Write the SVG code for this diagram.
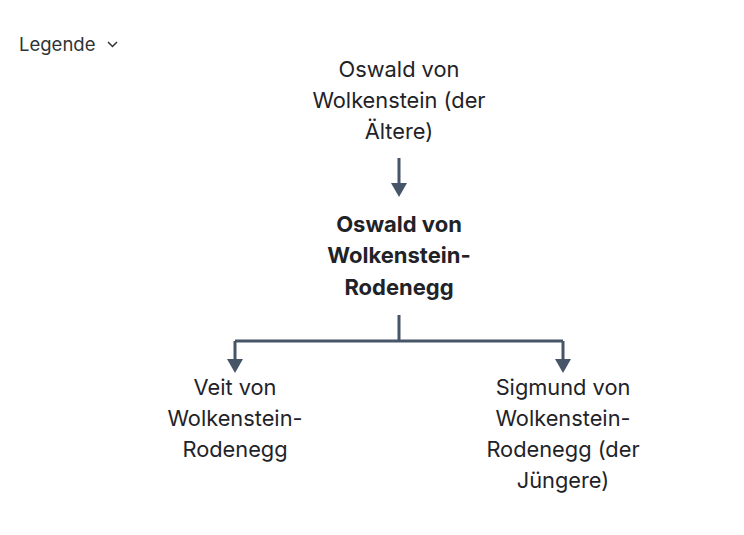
<svg xmlns="http://www.w3.org/2000/svg" width="744" height="535" viewBox="0 0 744 535">
<style>
text{font-family:Inter,"Noto Sans","Liberation Sans",sans-serif;fill:#1f2328}
.n{font-size:21.8px;text-anchor:middle}
.b{font-weight:700;font-size:22px}
.c{fill:none;stroke:#475569;stroke-width:3}
.lg{font-size:18.5px;fill:#2f3337}
</style>
<g id="legend">
<text class="lg" x="19" y="51">Legende</text>
<path d="M108,42 L112.5,46.5 L117,42" fill="none" stroke="#2f3337" stroke-width="1.5"/>
</g>
<g id="connectors">
<path class="c" d="M399,158 V184"/>
<path d="M391,183 H407 L399,197 Z" fill="#475569"/>
<path class="c" d="M399,315 V341 M235,341 H563 M235,341 V360 M563,341 V360"/>
<path d="M227,359 H243 L235,373 Z" fill="#475569"/>
<path d="M555,359 H571 L563,373 Z" fill="#475569"/>
</g>
<g id="n1">
<text class="n" x="399" y="77">Oswald von</text>
<text class="n" x="399" y="108">Wolkenstein (der</text>
<text class="n" x="399" y="139">Ältere)</text>
</g>
<g id="n2">
<text class="n b" x="399" y="232">Oswald von</text>
<text class="n b" x="399" y="263">Wolkenstein-</text>
<text class="n b" x="399" y="295">Rodenegg</text>
</g>
<g id="n3">
<text class="n" x="235" y="395">Veit von</text>
<text class="n" x="235" y="426">Wolkenstein-</text>
<text class="n" x="235" y="457">Rodenegg</text>
</g>
<g id="n4">
<text class="n" x="563" y="395">Sigmund von</text>
<text class="n" x="563" y="426">Wolkenstein-</text>
<text class="n" x="563" y="457">Rodenegg (der</text>
<text class="n" x="563" y="488">Jüngere)</text>
</g>
</svg>
